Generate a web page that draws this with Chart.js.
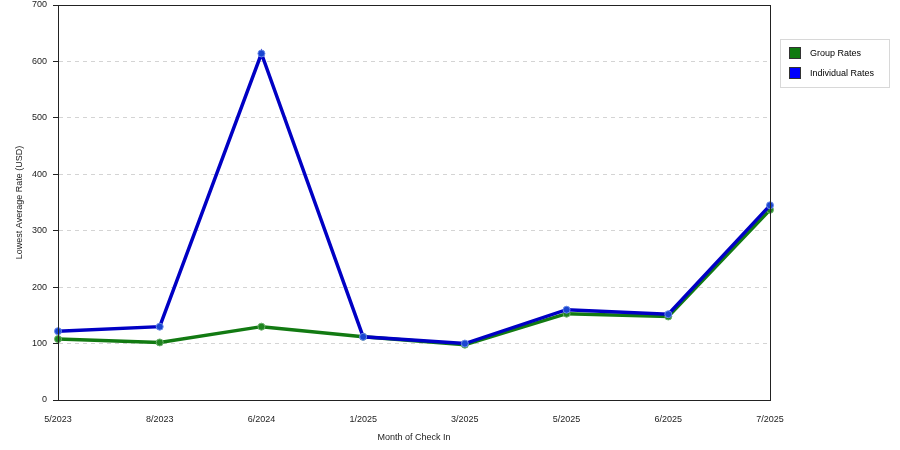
<!DOCTYPE html>
<html>
<head>
<meta charset="utf-8">
<script src="https://cdn.jsdelivr.net/npm/chart.js@4/dist/chart.umd.min.js"></script>
<style>
  html, body { margin: 0; padding: 0; background: #fff; }
  #wrap { width: 900px; height: 450px; position: relative; }
</style>
</head>
<body>
<div id="wrap"><canvas id="c" width="900" height="450"></canvas></div>
<script>
const months = ["5/2023", "8/2023", "6/2024", "1/2025", "3/2025", "5/2025", "6/2025", "7/2025"];
const groupRates = [108, 102, 130, 112, 98, 153, 148, 337];
const individualRates = [122, 130, 614, 112, 100, 160, 152, 345];
const yTicks = [0, 100, 200, 300, 400, 500, 600, 700];
const seriesNames = ["Group Rates", "Individual Rates"];

const FONT = "'Liberation Sans', Arial, sans-serif";

const frameAndLegend = {
  id: 'frameAndLegend',
  afterDatasetsDraw(chart) {
    const ctx = chart.ctx;
    const a = chart.chartArea;
    ctx.save();
    ctx.strokeStyle = '#222';
    ctx.lineWidth = 1;
    ctx.strokeRect(Math.round(a.left) + 0.5, Math.round(a.top) + 0.5, Math.round(a.right - a.left), Math.round(a.bottom - a.top));
    // legend
    const lx = 780, ly = 39, lw = 109, lh = 48;
    ctx.strokeStyle = '#d8d8d8';
    ctx.fillStyle = '#fff';
    ctx.fillRect(lx, ly, lw, lh);
    ctx.strokeRect(lx + 0.5, ly + 0.5, lw, lh);
    chart.data.datasets.forEach((ds, i) => {
      const sy = 47 + i * 20;
      ctx.fillStyle = ds.legendColor;
      ctx.fillRect(789, sy, 12, 12);
      ctx.strokeStyle = '#333';
      ctx.strokeRect(789.5, sy + 0.5, 11, 11);
      ctx.fillStyle = '#000';
      ctx.font = '9px ' + FONT;
      ctx.textBaseline = 'middle';
      ctx.textAlign = 'left';
      ctx.fillText(ds.label, 810, sy + 7);
    });
    ctx.restore();
  }
};

new Chart(document.getElementById('c'), {
  type: 'line',
  data: {
    labels: months,
    datasets: [
      {
        label: seriesNames[0],
        data: groupRates,
        borderColor: '#127a12',
        backgroundColor: '#2f9a2f',
        legendColor: '#0f7a0f',
        borderWidth: 3.5,
        pointRadius: 3.5,
        pointBorderWidth: 1,
        pointBorderColor: '#6cb06c',
        pointBackgroundColor: '#1f851f',
        tension: 0,
        order: 2
      },
      {
        label: seriesNames[1],
        data: individualRates,
        borderColor: '#0000c4',
        backgroundColor: '#1f4fd8',
        legendColor: '#0000ff',
        borderWidth: 3.5,
        pointRadius: 3.5,
        pointBorderWidth: 1,
        pointBorderColor: '#6a8ae8',
        pointBackgroundColor: '#1a45d0',
        tension: 0,
        order: 1
      }
    ]
  },
  options: {
    responsive: false,
    animation: false,
    devicePixelRatio: 1,
    layout: { padding: { left: 0, right: 130, top: 5, bottom: 0 } },
    plugins: {
      legend: { display: false },
      tooltip: { enabled: false }
    },
    scales: {
      x: {
        type: 'category',
        offset: false,
        grid: { display: false, drawOnChartArea: false, drawTicks: true, tickLength: 6, color: '#222' },
        border: { display: true, color: '#222' },
        ticks: { color: '#222', font: { family: FONT, size: 9 }, padding: 8, maxRotation: 0, autoSkip: false },
        title: { display: true, text: 'Month of Check In', color: '#222', font: { family: FONT, size: 9 }, padding: { top: 0, bottom: 7 } },
        afterFit(s) { s.height = 50; s.paddingLeft = 0; s.paddingRight = 0; }
      },
      y: {
        min: 0,
        max: 700,
        afterBuildTicks(s) { s.ticks = yTicks.map(v => ({ value: v })); },
        grid: {
          drawOnChartArea: true,
          drawTicks: true,
          tickLength: 5,
          color: (c) => (c.tick && (c.tick.value === 0 || c.tick.value === 700)) ? 'rgba(0,0,0,0)' : '#d4d4d4',
          tickColor: '#222'
        },
        border: { display: true, color: '#222', dash: [4, 4] },
        ticks: { color: '#222', font: { family: FONT, size: 9 }, padding: 6 },
        title: { display: true, text: 'Lowest Average Rate (USD)', color: '#222', font: { family: FONT, size: 9 }, padding: { top: 14, bottom: 0 } },
        afterFit(s) { s.width = 58; s.paddingTop = 0; s.paddingBottom = 0; }
      }
    }
  },
  plugins: [frameAndLegend]
});
</script>
</body>
</html>
